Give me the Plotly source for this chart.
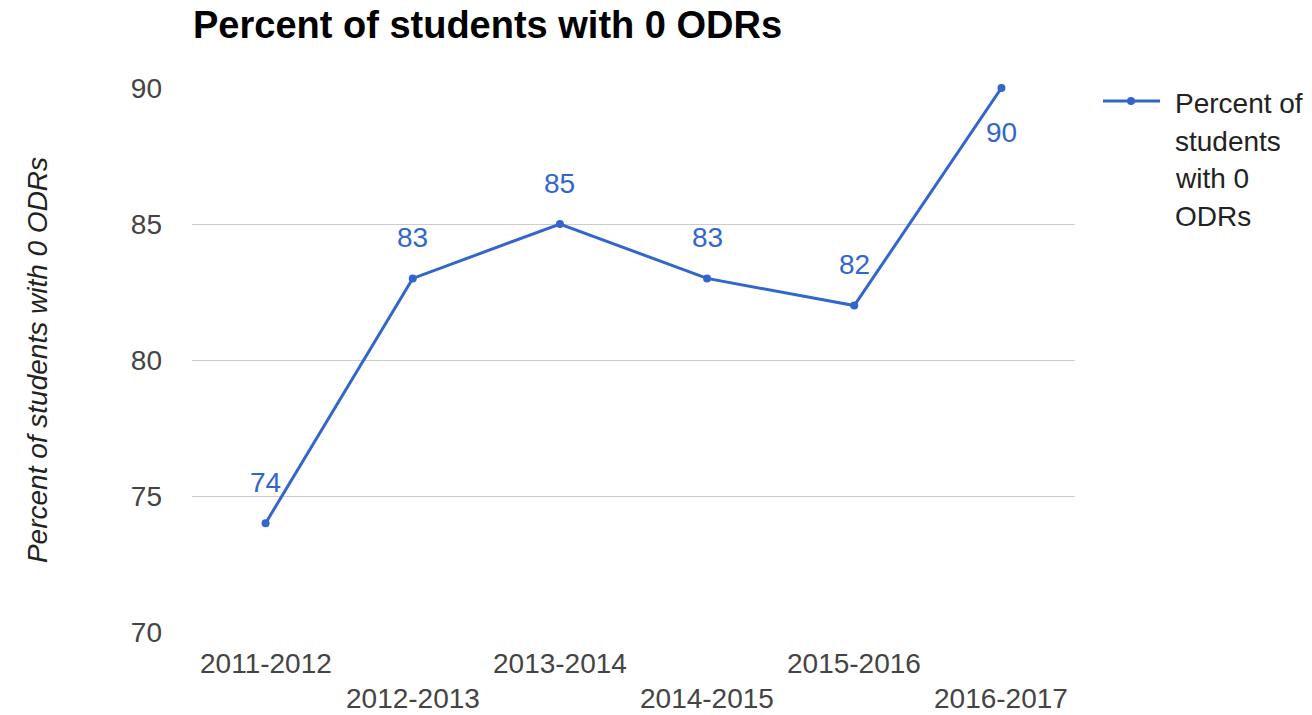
import plotly.graph_objects as go

categories = ["2011-2012", "2012-2013", "2013-2014", "2014-2015", "2015-2016", "2016-2017"]
values = [74, 83, 85, 83, 82, 90]
y_ticks = [70, 75, 80, 85, 90]
legend_lines = ["Percent of", "students", "with 0", "ODRs"]
title_text = "Percent of students with 0 ODRs"
y_title = "Percent of students with 0 ODRs"

BLUE = "#3366cc"
FONT = "Liberation Sans, Arial, sans-serif"

W, H = 1312, 715
L, R, T, B = 192, 237, 88, 83
PW, PH = W - L - R, H - T - B


def px_to_paper_x(px):
    return (px - L) / PW


def px_to_paper_y(py):
    return (H - B - py) / PH


fig = go.Figure()
fig.add_trace(go.Scatter(
    x=list(range(len(categories))), y=values, mode="lines+markers",
    name=" ".join(legend_lines),
    line=dict(color=BLUE, width=3),
    marker=dict(color=BLUE, size=8),
    cliponaxis=False,
    showlegend=False,
))

# data labels
for i, v in enumerate(values):
    top = v >= max(values)
    fig.add_annotation(x=i, y=v, xref="x", yref="y", text=str(v), showarrow=False,
                       font=dict(family=FONT, size=28, color=BLUE),
                       yshift=-44 if top else 41)

# staggered category labels
for i, c in enumerate(categories):
    fig.add_annotation(x=i, y=0, xref="x", yref="paper", text=c, showarrow=False,
                       yanchor="middle", yshift=-31 if i % 2 == 0 else -66,
                       font=dict(family=FONT, size=28, color="#444444"))

# legend (line sample + wrapped text)
ly = px_to_paper_y(101)
fig.add_shape(type="line", xref="paper", yref="paper",
              x0=px_to_paper_x(1103), x1=px_to_paper_x(1160), y0=ly, y1=ly,
              line=dict(color=BLUE, width=3))
fig.add_shape(type="circle", xref="paper", yref="paper",
              xsizemode="pixel", ysizemode="pixel",
              xanchor=px_to_paper_x(1131), yanchor=ly,
              x0=-4, x1=4, y0=-4, y1=4,
              fillcolor=BLUE, line=dict(color=BLUE, width=0))
for txt, cy in zip(legend_lines, [103, 141, 178, 216]):
    fig.add_annotation(x=px_to_paper_x(1173), y=px_to_paper_y(cy), xref="paper", yref="paper",
                       text=txt, showarrow=False, xanchor="left", yanchor="middle",
                       font=dict(family=FONT, size=28, color="#222222"))

fig.update_layout(
    width=W, height=H,
    margin=dict(l=L, r=R, t=T, b=B, pad=0),
    paper_bgcolor="white", plot_bgcolor="white",
    title=dict(text="<b>" + title_text + "</b>", x=193 / W, xanchor="left",
               y=1 - 25 / H, yanchor="middle",
               font=dict(family=FONT, size=38, color="#000000")),
    showlegend=False,
    font=dict(family=FONT),
)
fig.update_xaxes(range=[-0.5, len(categories) - 0.5], showticklabels=False,
                 showgrid=False, zeroline=False, showline=False, ticks="")
fig.update_yaxes(range=[70, 90], tickvals=y_ticks, showgrid=True, gridcolor="#cccccc",
                 gridwidth=1, zeroline=False, showline=False,
                 tickfont=dict(family=FONT, size=28, color="#444444"),
                 ticklabelstandoff=29,
                 title=dict(text="<i>" + y_title + "</i>", standoff=75,
                            font=dict(family=FONT, size=28, color="#222222")))

fig.write_html("out.html",
               config={"displayModeBar": False},
               post_script="document.body.style.margin='0';document.body.style.overflow='hidden';")
